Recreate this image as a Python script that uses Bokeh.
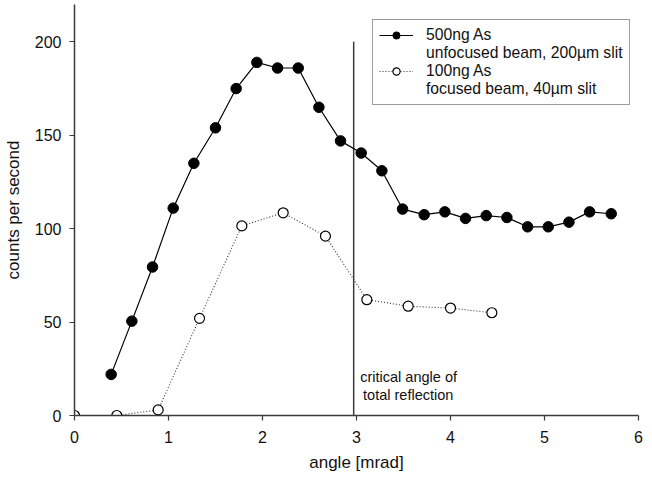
from bokeh.plotting import figure
from bokeh.models import Legend, LegendItem, Label, Range1d, FixedTicker
from bokeh.embed import file_html
from bokeh.resources import INLINE

# ---- data ----
angle_500 = [0.39, 0.61, 0.83, 1.05, 1.27, 1.50, 1.72, 1.94, 2.16, 2.38, 2.60, 2.83, 3.05,
             3.27, 3.49, 3.72, 3.94, 4.16, 4.38, 4.60, 4.82, 5.04, 5.26, 5.48, 5.71]
cps_500 = [22, 50.5, 79.5, 111, 135, 154, 175, 189, 186, 186, 165, 147, 140.5,
           131, 110.5, 107.5, 109, 105.5, 107, 106, 101, 101, 103.5, 109, 108]

angle_100 = [0.0, 0.45, 0.89, 1.33, 1.78, 2.22, 2.67, 3.11, 3.55, 4.00, 4.44]
cps_100 = [0, 0, 3, 52, 101.5, 108.5, 96, 62, 58.5, 57.5, 55]

x_ticks = [0, 1, 2, 3, 4, 5, 6]
y_ticks = [0, 50, 100, 150, 200]

critical_angle = [2.97]
critical_bottom = [0]
critical_top = [200]

legend_500 = ["500ng As", "unfocused beam, 200µm slit"]
legend_100 = ["100ng As", "focused beam, 40µm slit"]
note_line1 = "critical angle of"
note_line2 = "total reflection"

FONT = "Liberation Sans"
AXIS_COLOR = "#3a3a3a"
TEXT_COLOR = "#111111"

p = figure(width=644, height=475, output_backend="svg", toolbar_location=None,
           x_range=Range1d(0, 6), y_range=Range1d(0, 220),
           min_border_left=68, min_border_right=6, min_border_top=4, min_border_bottom=60)
p.outline_line_color = None
p.xgrid.visible = False
p.ygrid.visible = False
p.background_fill_color = "white"
p.border_fill_color = "white"

for ax in (p.xaxis[0], p.yaxis[0]):
    ax.axis_line_color = AXIS_COLOR
    ax.axis_line_width = 1.5
    ax.major_tick_line_color = AXIS_COLOR
    ax.major_tick_line_width = 1.2
    ax.major_tick_out = 5
    ax.major_tick_in = 0
    ax.minor_tick_line_color = None
    ax.major_label_text_font = FONT
    ax.major_label_text_font_size = "16px"
    ax.major_label_text_color = TEXT_COLOR
    ax.axis_label_text_font = FONT
    ax.axis_label_text_font_size = "17px"
    ax.axis_label_text_font_style = "normal"
    ax.axis_label_text_color = TEXT_COLOR

p.xaxis.ticker = FixedTicker(ticks=x_ticks)
p.yaxis.ticker = FixedTicker(ticks=y_ticks)
p.xaxis.axis_label = "angle [mrad]"
p.yaxis.axis_label = "counts per second"
p.xaxis.major_label_standoff = 10
p.yaxis.major_label_standoff = 8
p.xaxis.axis_label_standoff = 7
p.yaxis.axis_label_standoff = 9

# critical angle line
p.segment(x0=critical_angle, y0=critical_bottom, x1=critical_angle, y1=critical_top,
          line_color=AXIS_COLOR, line_width=1.5)

# series 100ng (dotted, open circles)
l2 = p.line(angle_100, cps_100, line_color="#333333", line_width=1.1, line_dash="1 2")
s2 = p.scatter(angle_100, cps_100, marker="circle", size=10, fill_color="white",
               line_color="black", line_width=1.2)

# series 500ng (solid, filled circles)
l1 = p.line(angle_500, cps_500, line_color="black", line_width=1.2)
s1 = p.scatter(angle_500, cps_500, marker="circle", size=10.5, fill_color="black",
               line_color="black", line_width=1)

# invisible renderer used for the second text line of each legend entry
blank = p.line(x=[], y=[], line_alpha=0)

legend = Legend(items=[LegendItem(label=legend_500[0], renderers=[l1, s1]),
                       LegendItem(label=legend_500[1], renderers=[blank]),
                       LegendItem(label=legend_100[0], renderers=[l2, s2]),
                       LegendItem(label=legend_100[1], renderers=[blank])],
                location=(298, 310))
legend.border_line_color = AXIS_COLOR
legend.border_line_width = 1.3
legend.background_fill_color = "white"
legend.background_fill_alpha = 1
legend.label_text_font = FONT
legend.label_text_font_size = "15.7px"
legend.label_text_color = TEXT_COLOR
legend.label_height = 18
legend.glyph_width = 34
legend.glyph_height = 18
legend.label_standoff = 13
legend.padding = 6
legend.spacing = 0
legend.margin = 0
p.add_layout(legend)

p.add_layout(Label(x=3.04, y=20.6, text=note_line1, text_font=FONT, text_font_size="14.5px",
                   text_baseline="middle", text_align="left", text_color=TEXT_COLOR))
p.add_layout(Label(x=3.07, y=11.0, text=note_line2, text_font=FONT, text_font_size="14.5px",
                   text_baseline="middle", text_align="left", text_color=TEXT_COLOR))

open("out.html", "w").write(file_html(p, INLINE))
